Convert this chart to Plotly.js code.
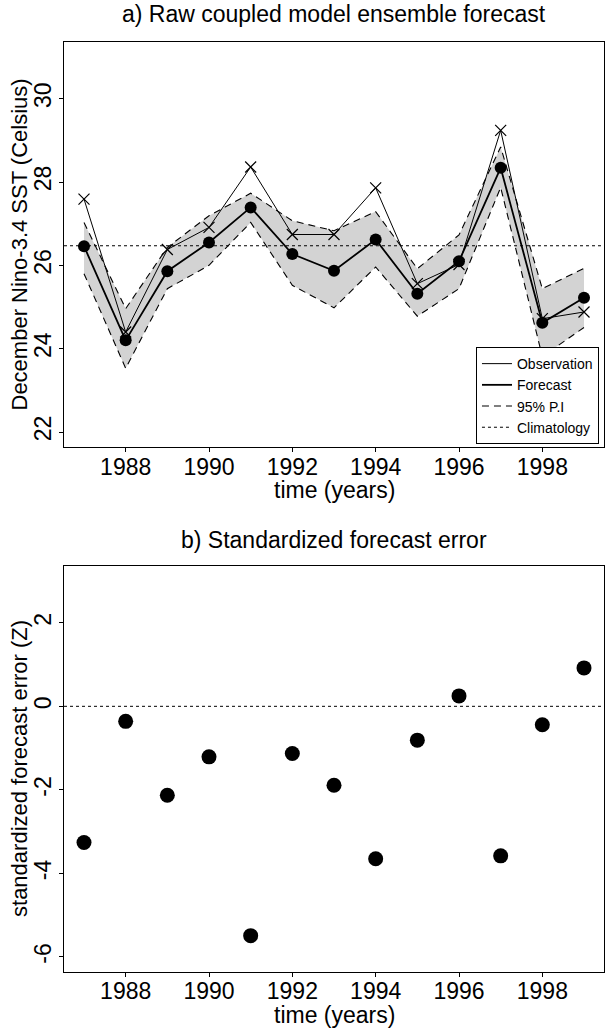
<!DOCTYPE html>
<html>
<head>
<meta charset="utf-8">
<script src="https://cdn.plot.ly/plotly-3.0.1.min.js"></script>
<style>html,body{margin:0;padding:0;background:#fff;}#chart{width:605px;height:1029px;}</style>
</head>
<body>
<div id="chart"></div>
<script>
// ---- data ----
const years = [1987,1988,1989,1990,1991,1992,1993,1994,1995,1996,1997,1998,1999];
const observed = [27.59,24.40,26.38,26.91,28.36,26.74,26.74,27.86,25.56,26.02,29.24,24.72,24.88];
const forecast = [26.46,24.20,25.86,26.55,27.39,26.27,25.87,26.62,25.32,26.10,28.34,24.62,25.22];
const upper95 = [27.03,24.96,26.43,27.19,27.73,27.07,26.83,27.29,25.92,26.73,28.84,25.44,25.93];
const lower95 = [25.80,23.53,25.44,26.00,27.03,25.52,24.98,25.96,24.78,25.44,27.87,23.81,24.51];
const climatology = 26.47;
const zError = [-3.26,-0.36,-2.13,-1.21,-5.49,-1.13,-1.89,-3.65,-0.81,0.25,-3.58,-0.44,0.92];
const xTicks = [1988,1990,1992,1994,1996,1998];
const yTicksTop = [22,24,26,28,30];
const yTicksBottom = [-6,-4,-2,0,2];
const yTickTextBottom = ['-6','-4','-2','0','2'];

const FONT = 'Liberation Sans, Arial, Helvetica, sans-serif';
const xRange = [1986.52, 1999.48];
const DASH = '7px,5px';

const traces = [
  // shaded interval (no legend)
  {x: years, y: lower95, type:'scatter', mode:'lines', line:{width:0}, showlegend:false, hoverinfo:'skip', xaxis:'x', yaxis:'y'},
  {x: years, y: upper95, type:'scatter', mode:'lines', line:{width:0}, fill:'tonexty', fillcolor:'#d3d3d3', showlegend:false, hoverinfo:'skip', xaxis:'x', yaxis:'y'},
  // 95% PI dashed bounds
  {x: years, y: upper95, type:'scatter', mode:'lines', name:'95% P.I', legendgroup:'pi', legendrank:3,
   line:{color:'#000', width:1.1, dash:DASH}, xaxis:'x', yaxis:'y'},
  {x: years, y: lower95, type:'scatter', mode:'lines', name:'95% P.I', legendgroup:'pi', showlegend:false,
   line:{color:'#000', width:1.1, dash:DASH}, xaxis:'x', yaxis:'y'},
  // climatology
  {x: xRange, y: [climatology, climatology], type:'scatter', mode:'lines', name:'Climatology', legendrank:4,
   line:{color:'#000', width:1, dash:'dot'}, xaxis:'x', yaxis:'y'},
  // observation
  {x: years, y: observed, type:'scatter', mode:'lines', name:'Observation', legendrank:1,
   line:{color:'#000', width:1}, xaxis:'x', yaxis:'y'},
  {x: years, y: observed, type:'scatter', mode:'markers', showlegend:false,
   marker:{symbol:'x-thin-open', size:11, color:'#000', line:{color:'#000', width:1.2}}, xaxis:'x', yaxis:'y'},
  // forecast
  {x: years, y: forecast, type:'scatter', mode:'lines', name:'Forecast', legendrank:2,
   line:{color:'#000', width:1.8}, xaxis:'x', yaxis:'y'},
  {x: years, y: forecast, type:'scatter', mode:'markers', showlegend:false,
   marker:{symbol:'circle', size:12, color:'#000'}, xaxis:'x', yaxis:'y'},
  // standardized error
  {x: years, y: zError, type:'scatter', mode:'markers', showlegend:false,
   marker:{symbol:'circle', size:15, color:'#000'}, xaxis:'x2', yaxis:'y2'}
];

const axisCommon = {
  showline:true, mirror:true, linecolor:'#000', linewidth:1,
  ticks:'outside', ticklen:4, tickcolor:'#000', tickwidth:1,
  showgrid:false, zeroline:false,
  tickfont:{family:FONT, size:23, color:'#000'}
};
const yAxisExtra = {tickangle:-90, ticklabelstandoff:-1};

const titleFont = {family:FONT, size:23, color:'#000'};
const yTitleFont = {family:FONT, size:22, color:'#000'};

const layout = {
  width:605, height:1029,
  margin:{l:64, r:1, t:42, b:57, pad:0},
  paper_bgcolor:'#fff', plot_bgcolor:'#fff',
  font:{family:FONT, color:'#000'},
  showlegend:true,
  legend:{x:0.9907, xanchor:'right', y:0.5677, yanchor:'bottom',
    bgcolor:'#fff', bordercolor:'#000', borderwidth:1,
    font:{family:FONT, size:14, color:'#000'}, tracegroupgap:0, itemwidth:30, traceorder:'normal'},
  xaxis: Object.assign({}, axisCommon, {ticklabelstandoff:-5, domain:[0,1], anchor:'y', range:xRange, tickvals:xTicks}),
  yaxis: Object.assign({}, axisCommon, yAxisExtra, {domain:[0.5645,1], anchor:'x', range:[21.64,31.36], tickvals:yTicksTop}),
  xaxis2: Object.assign({}, axisCommon, {ticklabelstandoff:-6, domain:[0,1], anchor:'y2', range:xRange, tickvals:xTicks}),
  yaxis2: Object.assign({}, axisCommon, yAxisExtra, {domain:[0,0.4366], anchor:'x2', range:[-6.36,3.36], tickvals:yTicksBottom, ticktext:yTickTextBottom}),
  shapes:[
    {type:'line', xref:'x2 domain', yref:'y2', x0:0, x1:1, y0:0, y1:0, line:{color:'#000', width:1, dash:'dot'}}
  ],
  annotations:[
    {text:'a) Raw coupled model ensemble forecast', xref:'paper', yref:'paper', x:0.5, y:1, yshift:28, xanchor:'center', yanchor:'middle', showarrow:false, font:titleFont},
    {text:'b) Standardized forecast error', xref:'paper', yref:'paper', x:0.5, y:0.4366, yshift:26, xanchor:'center', yanchor:'middle', showarrow:false, font:titleFont},
    {text:'time (years)', xref:'x domain', yref:'y domain', x:0.5, y:0, yshift:-43, xanchor:'center', yanchor:'middle', showarrow:false, font:titleFont},
    {text:'time (years)', xref:'x2 domain', yref:'y2 domain', x:0.5, y:0, yshift:-43, xanchor:'center', yanchor:'middle', showarrow:false, font:titleFont},
    {text:'December Nino-3.4 SST (Celsius)', xref:'paper', yref:'y domain', x:0, xshift:-44, y:0.5, xanchor:'center', yanchor:'middle', textangle:-90, showarrow:false, font:yTitleFont},
    {text:'standardized forecast error (Z)', xref:'paper', yref:'y2 domain', x:0, xshift:-44, y:0.5, xanchor:'center', yanchor:'middle', textangle:-90, showarrow:false, font:yTitleFont}
  ]
};

Plotly.newPlot('chart', traces, layout, {displayModeBar:false, staticPlot:true});
</script>
</body>
</html>
